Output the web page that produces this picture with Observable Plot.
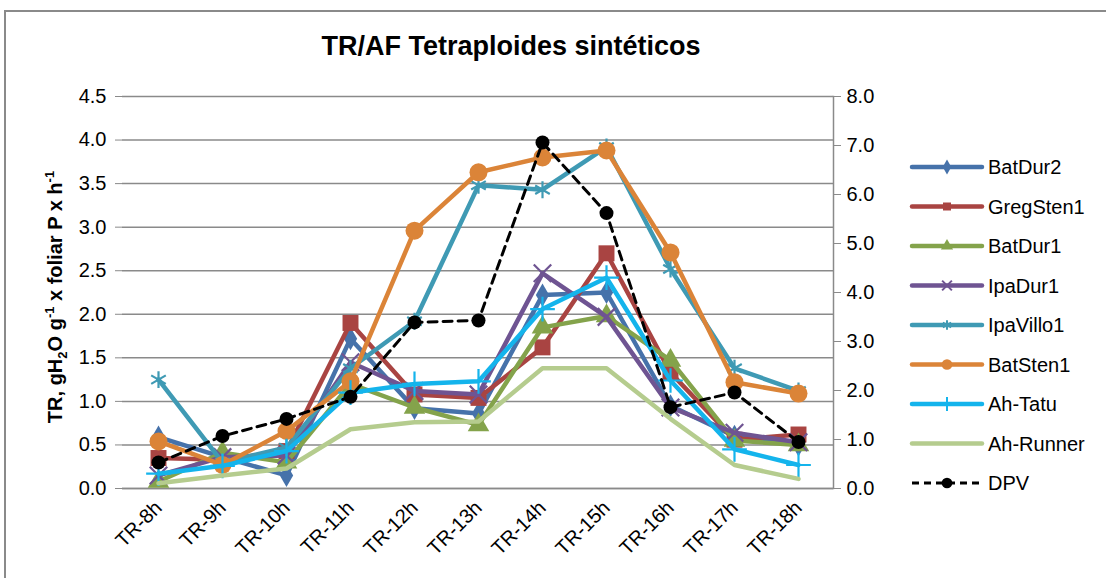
<!DOCTYPE html>
<html><head><meta charset="utf-8">
<script src="https://cdn.jsdelivr.net/npm/d3@7"></script>
<script src="https://cdn.jsdelivr.net/npm/@observablehq/plot@0.6"></script>
<style>
body{margin:0;background:#fff;width:1106px;height:578px;overflow:hidden;position:relative;font-family:"Liberation Sans",Arial,sans-serif;}
#border{position:absolute;left:4px;top:10px;width:1120px;height:600px;border:2px solid #8a8a8a;box-sizing:border-box;}
#title{position:absolute;left:0;width:1022px;top:31px;text-align:center;font-weight:bold;font-size:27px;color:#000;}
#ylab{position:absolute;left:56px;top:297px;transform:translate(-50%,-50%) rotate(-90deg);white-space:nowrap;font-weight:bold;font-size:20px;}
#ylab sub,#ylab sup{font-size:13px;}
#chart{position:absolute;left:0;top:0;}
#legend{position:absolute;left:900px;top:140px;}
</style></head>
<body>
<div id="border"></div>
<div id="chart"></div>
<div id="title">TR/AF Tetraploides sintéticos</div>
<div id="ylab">TR, gH<sub>2</sub>O g<sup>-1</sup> x foliar P x h<sup>-1</sup></div>
<div id="legend"></div>
<script>
const categories = ["TR-8h","TR-9h","TR-10h","TR-11h","TR-12h","TR-13h","TR-14h","TR-15h","TR-16h","TR-17h","TR-18h"];
const BatDur2   = [0.59,0.36,0.15,1.72,0.92,0.86,2.22,2.25,0.95,0.60,0.50];
const GregSten1 = [0.35,0.33,0.43,1.90,1.08,1.04,1.62,2.70,1.33,0.56,0.62];
const BatDur1   = [0.08,0.41,0.30,1.20,0.93,0.73,1.85,1.98,1.47,0.55,0.50];
const IpaDur1   = [0.15,0.36,0.38,1.45,1.12,1.08,2.47,1.97,0.93,0.64,0.53];
const IpaVillo1 = [1.25,0.30,0.47,1.38,1.92,3.48,3.43,3.92,2.52,1.38,1.12];
const BatSten1  = [0.54,0.27,0.66,1.23,2.96,3.63,3.80,3.88,2.71,1.22,1.09];
const AhTatu    = [0.17,0.26,0.43,1.10,1.20,1.23,2.06,2.42,1.24,0.45,0.27];
const AhRunner  = [0.06,0.15,0.23,0.68,0.76,0.77,1.38,1.38,0.80,0.27,0.11];
const DPV       = [0.53,1.07,1.42,1.87,3.39,3.43,7.06,5.62,1.66,1.96,0.95];
const leftTicks  = [0,0.5,1,1.5,2,2.5,3,3.5,4,4.5];
const rightTicks = [0,1,2,3,4,5,6,7,8];

const leftMax = 4.5, rightMax = 8;
const toLeft = v => v * leftMax / rightMax;

const series = [
  {name:"BatDur2",   values:BatDur2,   color:"#4672AA", symbol:"diamond",  r:7,   filled:true},
  {name:"GregSten1", values:GregSten1, color:"#A94442", symbol:"square",   r:9,   filled:true},
  {name:"BatDur1",   values:BatDur1,   color:"#84A34B", symbol:"triangle", r:8,   filled:true},
  {name:"IpaDur1",   values:IpaDur1,   color:"#6F5492", symbol:"times",    r:8,   filled:false},
  {name:"IpaVillo1", values:IpaVillo1, color:"#3F9AB4", symbol:"asterisk", r:8,   filled:false},
  {name:"BatSten1",  values:BatSten1,  color:"#DB8438", symbol:"circle",   r:9,   filled:true},
  {name:"Ah-Tatu",   values:AhTatu,    color:"#14B4EC", symbol:"plus",     r:8,   filled:false},
  {name:"Ah-Runner", values:AhRunner,  color:"#B5CC8E", symbol:null,       r:0,   filled:true}
];

const marks = [
  Plot.gridY(leftTicks, {stroke:"#8a8a8a", strokeOpacity:1, strokeWidth:1.5}),
  Plot.ruleY([0], {stroke:"#8a8a8a", strokeWidth:1.5}),
  Plot.axisY(leftTicks, {anchor:"left", tickFormat:d=>d.toFixed(1), tickSize:7, tickPadding:9, stroke:"#8a8a8a", label:null}),
  Plot.axisY(rightTicks.map(toLeft), {anchor:"right", tickFormat:d=>(d*rightMax/leftMax).toFixed(1), tickSize:7, tickPadding:6, stroke:"#8a8a8a", label:null}),
  Plot.frame({anchor:"right", stroke:"#8a8a8a", strokeWidth:1.5}),
  Plot.axisX({tickRotate:-45, tickSize:0, tickPadding:16, label:null})
];
for (const s of series) {
  const data = categories.map((c,i)=>({cat:c, v:s.values[i]}));
  marks.push(Plot.line(data, {x:"cat", y:"v", stroke:s.color, strokeWidth:4.5, strokeLinejoin:"round"}));
  if (s.symbol) {
    marks.push(Plot.dot(data, s.filled
      ? {x:"cat", y:"v", symbol:s.symbol, r:s.r, fill:s.color, stroke:"none"}
      : {x:"cat", y:"v", symbol:s.symbol, r:s.r, fill:"none", stroke:s.color, strokeWidth:2.2}));
  }
}
const dpvData = categories.map((c,i)=>({cat:c, v:toLeft(DPV[i])}));
marks.push(Plot.line(dpvData, {x:"cat", y:"v", stroke:"#000", strokeWidth:3, strokeDasharray:"9,6"}));
marks.push(Plot.dot(dpvData, {x:"cat", y:"v", r:7, fill:"#000"}));

const chart = Plot.plot({
  width:1106, height:578,
  marginTop:96, marginBottom:90, marginLeft:122, marginRight:273,
  style:{fontFamily:"'Liberation Sans', Arial, sans-serif", fontSize:"20px", color:"#000", background:"transparent", overflow:"visible"},
  x:{type:"point", domain:categories, padding:0.5},
  y:{domain:[0,leftMax]},
  marks
});
d3.select(chart).selectAll("text").style("font-size","20px").style("font-family","'Liberation Sans', Arial, sans-serif");
document.getElementById("chart").appendChild(chart);

// legend
const legItems = [...series.map(s=>({name:s.name, color:s.color, symbol:s.symbol, filled:s.filled, dash:null})),
  {name:"DPV", color:"#000", symbol:"circle", filled:true, dash:"7,5"}];
const symMap = {diamond:d3.symbolDiamond, square:d3.symbolSquare, triangle:d3.symbolTriangle, times:d3.symbolTimes, asterisk:d3.symbolAsterisk, circle:d3.symbolCircle, plus:d3.symbolPlus};
const lsvg = d3.select("#legend").append("svg").attr("width",206).attr("height",370)
  .style("font-family","'Liberation Sans', Arial, sans-serif").style("font-size","20px");
legItems.forEach((it,i)=>{
  const g = lsvg.append("g").attr("transform",`translate(0,${27 + i*39.5})`);
  g.append("line").attr("x1",12).attr("x2",82).attr("stroke",it.color)
    .attr("stroke-width", it.dash ? 3 : 4.5).attr("stroke-linecap", it.dash ? "butt" : "round")
    .attr("stroke-dasharray", it.dash);
  if (it.symbol) {
    const p = g.append("path").attr("transform","translate(47,0)")
      .attr("d", d3.symbol(symMap[it.symbol], it.symbol==="circle" ? 90 : 64)());
    if (it.filled) p.attr("fill",it.color); else p.attr("fill","none").attr("stroke",it.color).attr("stroke-width",2);
  }
  g.append("text").attr("x",88).attr("dy","0.35em").text(it.name);
});
</script>
</body></html>
